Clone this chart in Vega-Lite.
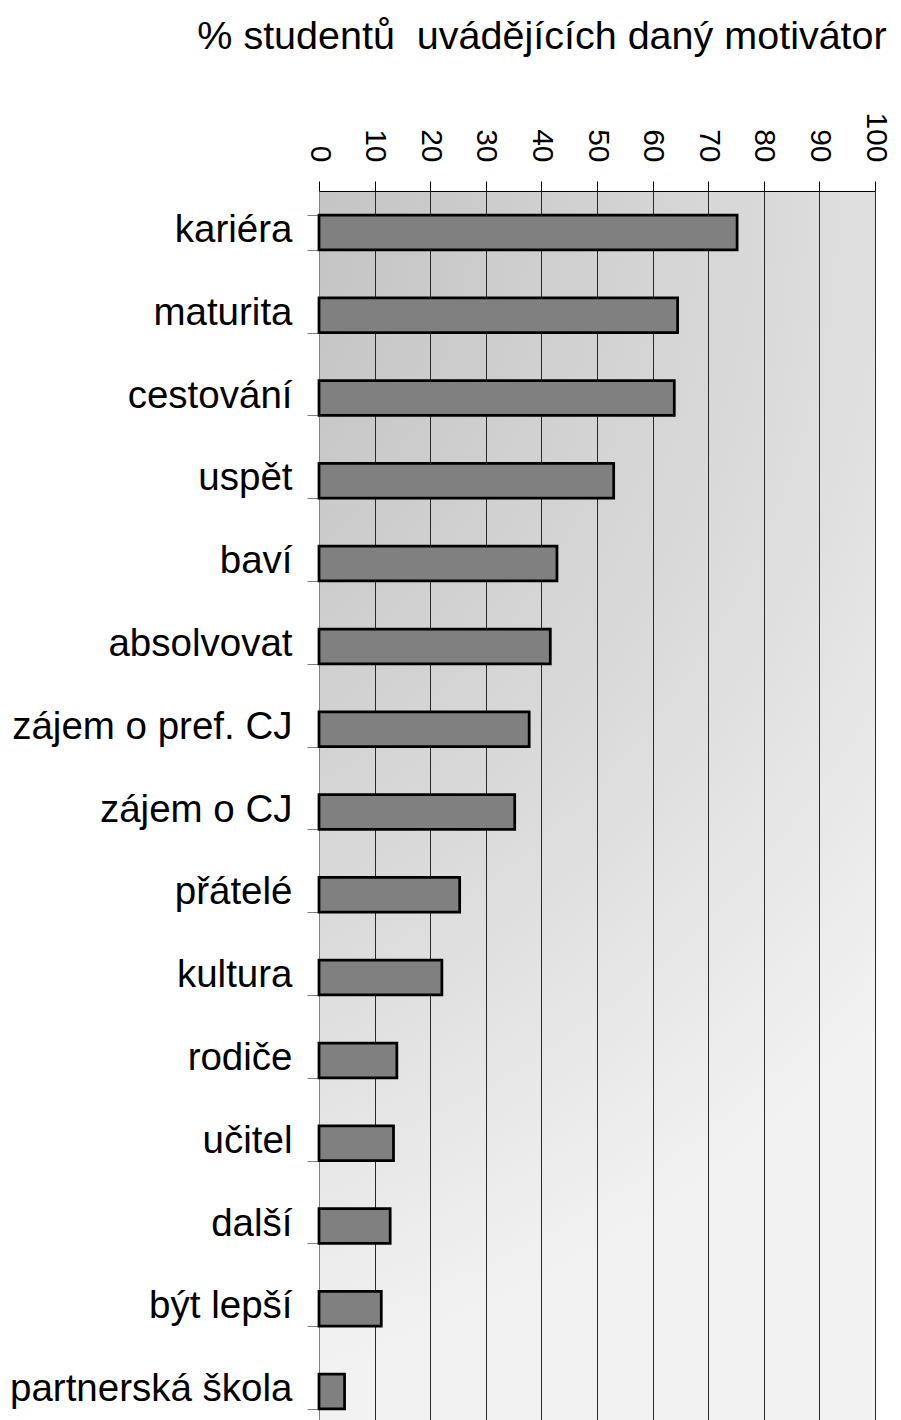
{
  "$schema": "https://vega.github.io/schema/vega-lite/v6.json",
  "autosize": {"type": "none"},
  "width": 556,
  "height": 1229,
  "padding": {"left": 319, "top": 191, "right": 26, "bottom": 0},
  "background": "white",
  "title": {
    "text": "% studentů\u00a0 uvádějících daný motivátor",
    "font": "Liberation Sans",
    "fontSize": 39.5,
    "fontWeight": "normal",
    "color": "black",
    "anchor": "middle",
    "dx": -55,
    "baseline": "alphabetic",
    "offset": 23
  },
  "config": {
    "view": {
      "stroke": null,
      "fill": {
        "gradient": "radial",
        "x1": 0, "y1": 0, "r1": 0,
        "x2": 0, "y2": 0, "r2": 1,
        "stops": [
          {"offset": 0, "color": "#bababa"},
          {"offset": 0.3, "color": "#c6c6c6"},
          {"offset": 0.65, "color": "#dadada"},
          {"offset": 1, "color": "#f2f2f2"}
        ]
      }
    },
    "axis": {"labelFont": "Liberation Sans", "labelColor": "black"}
  },
  "data": {
    "values": [
      {"motivator": "kariéra", "pct": 75.2},
      {"motivator": "maturita", "pct": 64.5},
      {"motivator": "cestování", "pct": 63.9},
      {"motivator": "uspět", "pct": 53.0},
      {"motivator": "baví", "pct": 42.8},
      {"motivator": "absolvovat", "pct": 41.6},
      {"motivator": "zájem o pref. CJ", "pct": 37.8},
      {"motivator": "zájem o CJ", "pct": 35.2},
      {"motivator": "přátelé", "pct": 25.3},
      {"motivator": "kultura", "pct": 22.1},
      {"motivator": "rodiče", "pct": 14.0},
      {"motivator": "učitel", "pct": 13.4},
      {"motivator": "další", "pct": 12.8},
      {"motivator": "být lepší", "pct": 11.2},
      {"motivator": "partnerská škola", "pct": 4.6}
    ]
  },
  "mark": {"type": "bar", "fill": "#808080", "stroke": "black", "strokeWidth": 2.75, "cornerRadius": 0},
  "encoding": {
    "y": {
      "field": "motivator",
      "type": "nominal",
      "sort": null,
      "scale": {"range": [0, 1242], "paddingInner": 0.58, "paddingOuter": 0.29},
      "axis": {
        "title": null,
        "labelFontSize": 38.5,
        "labelLimit": 400,
        "labelPadding": 15,
        "labelOffset": -3,
        "tickSize": 12,
        "tickColor": "#808080",
        "tickBand": "extent",
        "domain": true,
        "domainColor": "#808080",
        "grid": false
      }
    },
    "x": {
      "field": "pct",
      "type": "quantitative",
      "scale": {"domain": [0, 100], "nice": false, "zero": true},
      "axis": {
        "orient": "top",
        "title": null,
        "values": [0, 10, 20, 30, 40, 50, 60, 70, 80, 90, 100],
        "labelAngle": 90,
        "labelAlign": "right",
        "labelBaseline": "middle",
        "labelFontSize": 30,
        "labelPadding": 19,
        "tickSize": 10,
        "tickColor": "black",
        "domainColor": "black",
        "domainWidth": 1.2,
        "grid": true,
        "gridColor": "#2a2a2a",
        "gridWidth": 1,
        "gridOpacity": 1
      }
    }
  }
}
